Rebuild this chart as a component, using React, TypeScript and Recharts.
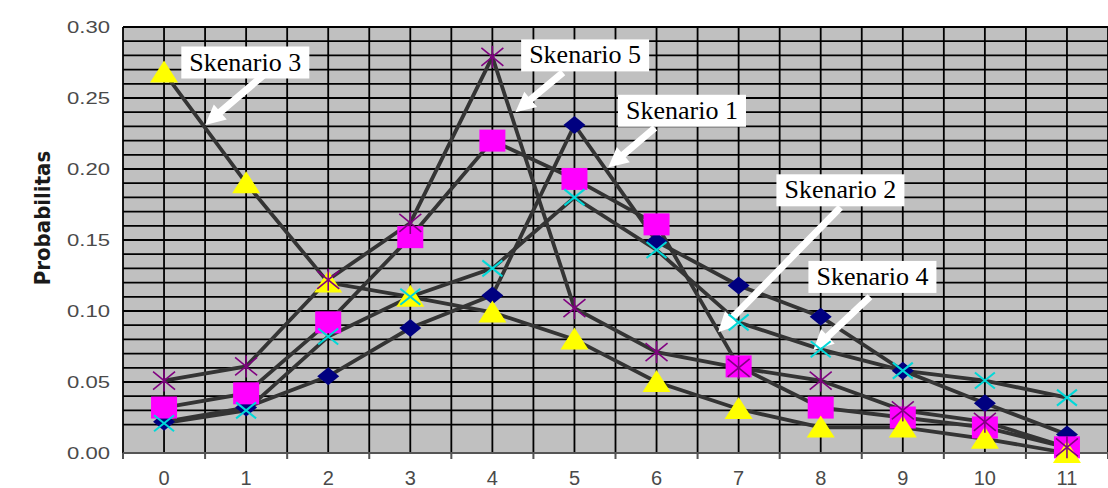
import {
  LineChart,
  Line,
  XAxis,
  YAxis,
  CartesianGrid,
  ReferenceLine,
  ReferenceDot,
} from "recharts";

// jumlah kejadian 0..11
const categories = [0, 1, 2, 3, 4, 5, 6, 7, 8, 9, 10, 11];
const skenario1 = [0.022, 0.032, 0.054, 0.088, 0.111, 0.231, 0.149, 0.118, 0.096, 0.058, 0.035, 0.013];
const skenario2 = [0.032, 0.042, 0.092, 0.152, 0.22, 0.193, 0.161, 0.061, 0.032, 0.025, 0.018, 0.004];
const skenario3 = [0.268, 0.19, 0.12, 0.11, 0.099, 0.08, 0.05, 0.031, 0.018, 0.018, 0.01, 0.0];
const skenario4 = [0.021, 0.03, 0.082, 0.11, 0.13, 0.18, 0.143, 0.092, 0.073, 0.058, 0.051, 0.039];
const skenario5 = [0.051, 0.061, 0.122, 0.162, 0.279, 0.102, 0.071, 0.06, 0.051, 0.03, 0.022, 0.004];

const xTicks = [-0.5, 0, 0.5, 1, 1.5, 2, 2.5, 3, 3.5, 4, 4.5, 5, 5.5, 6, 6.5, 7, 7.5, 8, 8.5, 9, 9.5, 10, 10.5, 11, 11.5];
// garis grid tiap 0.01, label hanya tiap 0.05
const yTicks = [
  0, 0.02, 0.03, 0.04, 0.05, 0.06, 0.07, 0.08, 0.09, 0.1, 0.11, 0.12, 0.13, 0.14, 0.15, 0.16,
  0.17, 0.18, 0.19, 0.2, 0.21, 0.22, 0.23, 0.24, 0.25, 0.26, 0.27, 0.28, 0.29, 0.3,
];

// catatan panah: label, kotak (x,y), ekor panah, ujung panah
const notes = [
  { text: "Skenario 3", box: [0.99, 0.275], from: [1.21, 0.266], to: [0.5, 0.231] },
  { text: "Skenario 5", box: [5.13, 0.28], from: [4.86, 0.268], to: [4.28, 0.24] },
  { text: "Skenario 1", box: [6.31, 0.241], from: [5.98, 0.229], to: [5.41, 0.201] },
  { text: "Skenario 2", box: [8.24, 0.185], from: [8.24, 0.173], to: [6.75, 0.085] },
  { text: "Skenario 4", box: [8.63, 0.124], from: [8.6, 0.11], to: [7.91, 0.0725] },
];

const data = categories.map((x, i) => ({
  x,
  s1: skenario1[i],
  s2: skenario2[i],
  s3: skenario3[i],
  s4: skenario4[i],
  s5: skenario5[i],
}));

const LINE = "#343434";

const Diamond = (p: any) => (
  <polygon
    key={`d1-${p.index}`}
    points={`${p.cx - 11},${p.cy} ${p.cx},${p.cy - 9} ${p.cx + 11},${p.cy} ${p.cx},${p.cy + 9}`}
    fill="#000080"
  />
);
const Square = (p: any) => (
  <rect key={`d2-${p.index}`} x={p.cx - 13} y={p.cy - 11} width={26} height={22} fill="#ff00ff" />
);
const Triangle = (p: any) => (
  <polygon
    key={`d3-${p.index}`}
    points={`${p.cx},${p.cy - 12} ${p.cx + 14},${p.cy + 10} ${p.cx - 14},${p.cy + 10}`}
    fill="#ffff00"
  />
);
const Cross = (p: any) => (
  <g key={`d4-${p.index}`} stroke="#00d8d8" strokeWidth={2}>
    <line x1={p.cx - 10} y1={p.cy - 8} x2={p.cx + 10} y2={p.cy + 8} />
    <line x1={p.cx - 10} y1={p.cy + 8} x2={p.cx + 10} y2={p.cy - 8} />
  </g>
);
const Star = (p: any) => (
  <g key={`d5-${p.index}`} stroke="#800080" strokeWidth={1.6}>
    <line x1={p.cx - 11} y1={p.cy - 9} x2={p.cx + 11} y2={p.cy + 9} />
    <line x1={p.cx - 11} y1={p.cy + 9} x2={p.cx + 11} y2={p.cy - 9} />
    <line x1={p.cx} y1={p.cy - 11} x2={p.cx} y2={p.cy + 11} />
  </g>
);

const YTick = ({ x, y, payload }: any) => {
  const v = Number(payload.value);
  if (Math.abs(v * 20 - Math.round(v * 20)) > 1e-6) return <g />;
  return (
    <g transform={`translate(${x},${y}) scale(1.3,1)`}>
      <text x={0} y={0} dy={6} textAnchor="end" fontFamily="Liberation Sans, Arial, sans-serif" fontSize={17} fill="#4a4a4a">
        {v.toFixed(2)}
      </text>
    </g>
  );
};

const XTick = ({ x, y, payload }: any) => {
  const v = Number(payload.value);
  if (!Number.isInteger(v)) {
    return <line x1={x} y1={y} x2={x} y2={y + 6} stroke="#555" strokeWidth={2} />;
  }
  return (
    <text x={x} y={y + 32} textAnchor="middle" fontFamily="Liberation Sans, Arial, sans-serif" fontSize={20} fill="#4a4a4a">
      {v}
    </text>
  );
};

const Arrow = (props: any) => {
  const { x1, y1, x2, y2 } = props;
  const dx = x2 - x1;
  const dy = y2 - y1;
  const len = Math.hypot(dx, dy) || 1;
  const ux = dx / len;
  const uy = dy / len;
  const head = 20;
  const half = 10;
  const shaft = 3.5;
  const bx = x2 - ux * head;
  const by = y2 - uy * head;
  const nx = -uy;
  const ny = ux;
  const pts = [
    [x1 + nx * shaft, y1 + ny * shaft],
    [bx + nx * shaft, by + ny * shaft],
    [bx + nx * half, by + ny * half],
    [x2, y2],
    [bx - nx * half, by - ny * half],
    [bx - nx * shaft, by - ny * shaft],
    [x1 - nx * shaft, y1 - ny * shaft],
  ];
  return <polygon points={pts.map((p) => p.join(",")).join(" ")} fill="#ffffff" />;
};

const noteBox = (text: string) => (p: any) => (
  <g>
    <rect x={p.cx - 64} y={p.cy - 16} width={128} height={32} fill="#ffffff" />
    <text
      x={p.cx}
      y={p.cy + 8}
      textAnchor="middle"
      fontFamily="Liberation Serif, Times New Roman, serif"
      fontSize={26}
      fill="#000"
    >
      {text}
    </text>
  </g>
);

const Title = () => (
  <text
    transform="translate(50,218) rotate(-90)"
    textAnchor="middle"
    fontFamily="Liberation Sans Narrow, DejaVu Sans Condensed, Arial, sans-serif"
    fontWeight="bold"
    fontSize={22}
    fill="#1a1a1a"
  >
    Probabilitas
  </text>
);

export default function App() {
  return (
    <div style={{ position: "absolute", left: 0, top: 0, width: 1108, height: 488, background: "#fff" }}>
      <LineChart width={1108} height={488} data={data} margin={{ top: 27, right: 0, bottom: 0, left: 0 }}>
        <CartesianGrid fill="#c0c0c0" fillOpacity={1} stroke="#000" strokeWidth={1.8} />
        <XAxis
          dataKey="x"
          type="number"
          domain={[-0.5, 11.5]}
          ticks={xTicks}
          interval={0}
          height={35}
          tickLine={false}
          tickSize={0}
          tickMargin={0}
          tick={<XTick />}
          axisLine={{ stroke: "#555", strokeWidth: 2 }}
        />
        <YAxis
          type="number"
          domain={[0, 0.3]}
          ticks={yTicks}
          interval={0}
          width={123}
          tickLine={false}
          tickSize={0}
          tickMargin={13}
          axisLine={false}
          tick={<YTick />}
          label={<Title />}
        />
        <Line type="linear" dataKey="s1" stroke={LINE} strokeWidth={3.8} dot={Diamond} activeDot={false} isAnimationActive={false} />
        <Line type="linear" dataKey="s2" stroke={LINE} strokeWidth={3.8} dot={Square} activeDot={false} isAnimationActive={false} />
        <Line type="linear" dataKey="s3" stroke={LINE} strokeWidth={3.8} dot={Triangle} activeDot={false} isAnimationActive={false} />
        <Line type="linear" dataKey="s4" stroke={LINE} strokeWidth={3.8} dot={Cross} activeDot={false} isAnimationActive={false} />
        <Line type="linear" dataKey="s5" stroke={LINE} strokeWidth={3.8} dot={Star} activeDot={false} isAnimationActive={false} />
        {notes.map((n) => (
          <ReferenceLine
            key={`a-${n.text}`}
            segment={[
              { x: n.from[0], y: n.from[1] },
              { x: n.to[0], y: n.to[1] },
            ]}
            shape={Arrow}
          />
        ))}
        {notes.map((n) => (
          <ReferenceDot key={`b-${n.text}`} x={n.box[0]} y={n.box[1]} r={1} shape={noteBox(n.text)} />
        ))}
      </LineChart>
    </div>
  );
}
